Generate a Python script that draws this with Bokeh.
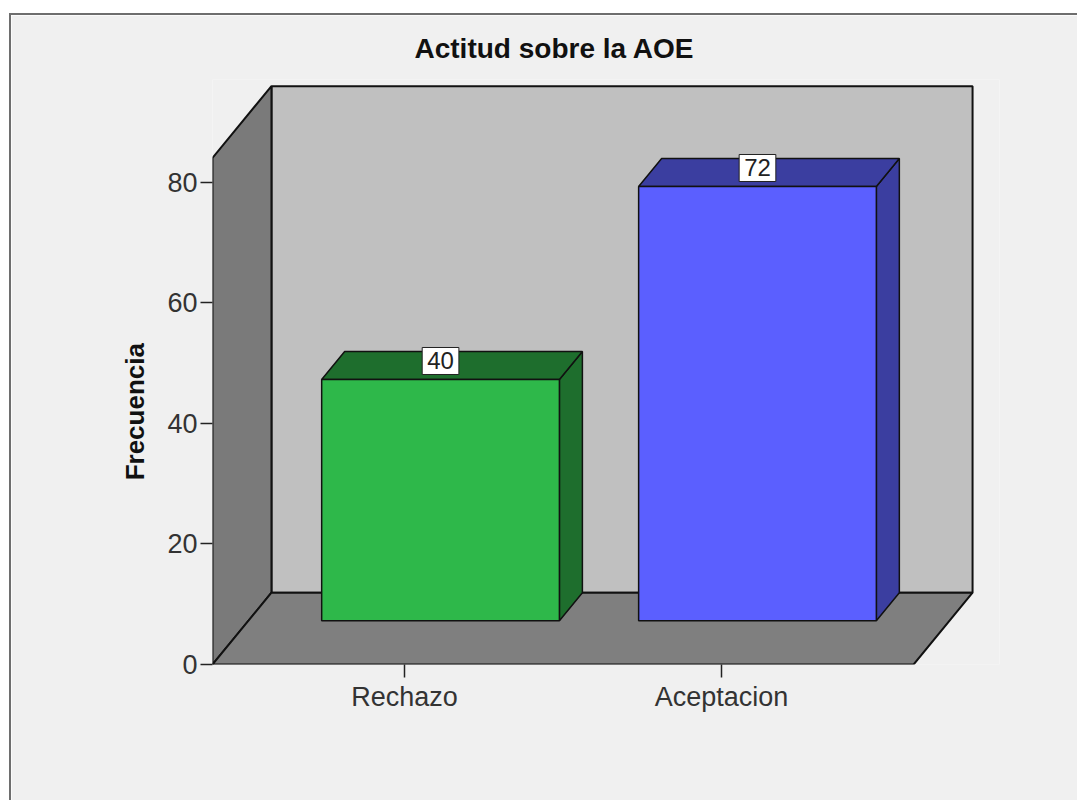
import math
from bokeh.plotting import figure
from bokeh.models import ColumnDataSource, FixedTicker, Label, Range1d
from bokeh.embed import file_html
from bokeh.resources import INLINE

# ---- data ----
categories = ["Rechazo", "Aceptacion"]
frecuencia = [40, 72]
y_ticks = [0, 20, 40, 60, 80]
title_text = "Actitud sobre la AOE"
y_title = "Frecuencia"
front_colors = ["#2EB84A", "#5B5FFF"]
shade_colors = ["#1E6E2D", "#3B3EA0"]

# ---- layout / 3D geometry constants ----
W, H = 1068, 787
x_pos = [i + 1 for i in range(len(categories))]
X0, X1 = 0.394, 2.606      # floor front edge (x-axis extent)
Y_TOP = 84                 # top of y-axis
DX, DY = 0.186, 11.9       # depth offset of walls
F = 0.61                   # depth fraction where bar front sits
BW = 0.75                  # bar width
XEND, YEND = 2.877, 97
FONT = "Liberation Sans"

p = figure(width=W, height=H, output_backend="svg", toolbar_location=None,
           x_range=Range1d(X0, XEND), y_range=Range1d(0, YEND),
           min_border_left=201, min_border_right=80, min_border_top=63,
           min_border_bottom=138,
           background_fill_color="#F0F0F0", border_fill_color="#F0F0F0",
           outline_line_color=None, margin=(13, 0, 0, 9),
           styles={"border-top": "2px solid #6e6e6e", "border-left": "2px solid #6e6e6e"})
p.grid.visible = False

# walls
back = dict(xs=[[X0 + DX, X0 + DX, X1 + DX, X1 + DX]], ys=[[DY, Y_TOP + DY, Y_TOP + DY, DY]])
p.patches(xs="xs", ys="ys", source=ColumnDataSource(back), fill_color="#C0C0C0",
          line_color="#111111", line_width=2)
left = dict(xs=[[X0, X0, X0 + DX, X0 + DX]], ys=[[0, Y_TOP, Y_TOP + DY, DY]])
p.patches(xs="xs", ys="ys", source=ColumnDataSource(left), fill_color="#7A7A7A",
          line_color="#111111", line_width=2)
floor = dict(xs=[[X0, X0 + DX, X1 + DX, X1]], ys=[[0, DY, DY, 0]])
p.patches(xs="xs", ys="ys", source=ColumnDataSource(floor), fill_color="#7F7F7F",
          line_color="#111111", line_width=2)

# bars
fx, tx, sx = [], [], []
fy, ty, sy = [], [], []
lab_x, lab_y, lab_t = [], [], []
for c, v in zip(x_pos, frecuencia):
    cx = c + F * DX
    xl, xr = cx - BW / 2, cx + BW / 2
    yb = F * DY
    ddx, ddy = (1 - F) * DX, (1 - F) * DY
    fx.append([xl, xl, xr, xr]); fy.append([yb, yb + v, yb + v, yb])
    tx.append([xl, xl + ddx, xr + ddx, xr]); ty.append([yb + v, yb + v + ddy, yb + v + ddy, yb + v])
    sx.append([xr, xr + ddx, xr + ddx, xr]); sy.append([yb, yb + ddy, yb + v + ddy, yb + v])
    lab_x.append(cx); lab_y.append(yb + v); lab_t.append(str(v))

p.patches(xs="xs", ys="ys", source=ColumnDataSource(dict(xs=sx, ys=sy, c=shade_colors)),
          fill_color="c", line_color="#111111", line_width=1.5)
p.patches(xs="xs", ys="ys", source=ColumnDataSource(dict(xs=tx, ys=ty, c=shade_colors)),
          fill_color="c", line_color="#111111", line_width=1.5)
p.patches(xs="xs", ys="ys", source=ColumnDataSource(dict(xs=fx, ys=fy, c=front_colors)),
          fill_color="c", line_color="#111111", line_width=1.5)

for lx, ly, lt in zip(lab_x, lab_y, lab_t):
    p.add_layout(Label(x=lx, y=ly, text=lt,
                       text_align="center", text_baseline="bottom", y_offset=5,
                       text_font=FONT, text_font_size="24px", text_color="#222222",
                       background_fill_color="white", border_line_color="#222222",
                       border_line_width=1, padding=5))

# axes
p.yaxis.ticker = FixedTicker(ticks=y_ticks)
p.yaxis.axis_line_color = None
p.yaxis.major_tick_out = 12
p.yaxis.major_tick_in = 0
p.yaxis.minor_tick_line_color = None
p.yaxis.major_tick_line_color = "#222222"
p.yaxis.major_tick_line_width = 1.5
p.yaxis.major_label_text_font = FONT
p.yaxis.major_label_text_font_size = "27px"
p.yaxis.major_label_text_color = "#333333"
p.yaxis.major_label_standoff = 3
# axis title; trailing no-break spaces shift the centred text down to match the reference
p.yaxis.axis_label = y_title + "\u00a0" * 11
p.yaxis.axis_label_text_font = FONT
p.yaxis.axis_label_text_font_size = "26px"
p.yaxis.axis_label_text_font_style = "bold"
p.yaxis.axis_label_text_color = "#111111"
p.yaxis.axis_label_standoff = 14

p.xaxis.ticker = FixedTicker(ticks=x_pos)
p.xaxis.major_label_overrides = {c: n for c, n in zip(x_pos, categories)}
p.xaxis.axis_line_color = None
p.xaxis.major_tick_out = 13
p.xaxis.major_tick_in = 0
p.xaxis.minor_tick_line_color = None
p.xaxis.major_tick_line_color = "#222222"
p.xaxis.major_tick_line_width = 1.5
p.xaxis.major_label_text_font = FONT
p.xaxis.major_label_text_font_size = "27px"
p.xaxis.major_label_text_color = "#333333"
p.xaxis.major_label_standoff = 4

# title
p.title.text = title_text
p.title.align = "left"
p.title.offset = 202
p.title.standoff = 31
p.title.text_font = FONT
p.title.text_font_size = "28px"
p.title.text_font_style = "bold"
p.title.text_color = "#111111"

open("out.html", "w").write(file_html(p, INLINE))
